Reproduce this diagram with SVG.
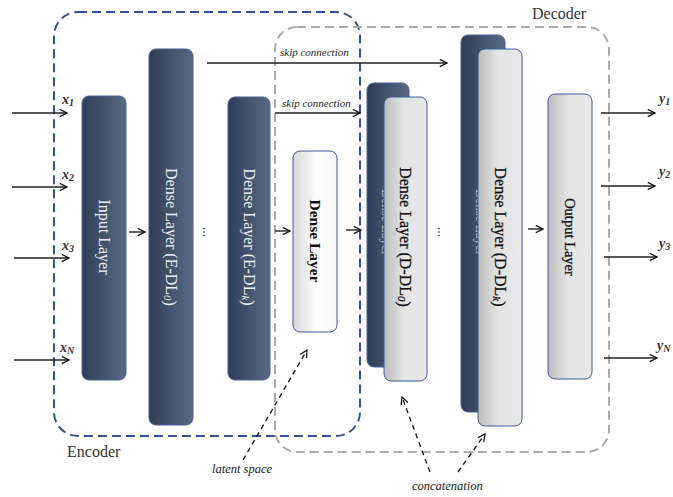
<svg xmlns="http://www.w3.org/2000/svg" width="673" height="497" viewBox="0 0 673 497">
<defs>
<linearGradient id="dark" x1="0" y1="0" x2="1" y2="0">
<stop offset="0" stop-color="#2f3d57"/>
<stop offset="1" stop-color="#5a6984"/>
</linearGradient>
<linearGradient id="light" x1="0" y1="0" x2="1" y2="0">
<stop offset="0" stop-color="#bcbcbc"/>
<stop offset="0.45" stop-color="#e4e4e4"/>
<stop offset="1" stop-color="#e8e8e8"/>
</linearGradient>
<linearGradient id="white" x1="0" y1="0" x2="1" y2="0">
<stop offset="0" stop-color="#d8d8d8"/>
<stop offset="0.55" stop-color="#ffffff"/>
<stop offset="1" stop-color="#f7f7f7"/>
</linearGradient>
<marker id="ah" viewBox="0 0 10 10" refX="9" refY="5" markerWidth="9" markerHeight="9" markerUnits="userSpaceOnUse" orient="auto">
<path d="M1,1 L9,5 L1,9" fill="none" stroke="#111" stroke-width="1.4"/>
</marker>
<style>
.dk{fill:url(#dark);stroke:#4b6394;stroke-width:1}
.lt{fill:url(#light);stroke:#3a5a9a;stroke-width:1}
.wt{fill:url(#white);stroke:#3a5a9a;stroke-width:1}
.lbl{font-family:"Liberation Serif",serif;font-size:16px;text-anchor:middle;dominant-baseline:central}
.wlbl{fill:#eef0f4}
.blbl{fill:#111;stroke:#111;stroke-width:0.3}
.io{font-family:"Liberation Serif",serif;font-size:14px;font-style:italic;font-weight:bold;fill:#333}
.it{font-family:"Liberation Serif",serif;font-style:italic;fill:#222}
.cap{font-family:"Liberation Serif",serif;font-size:16px;fill:#333}
.ln{stroke:#222;stroke-width:1.4;fill:none;marker-end:url(#ah)}
.dl{stroke:#111;stroke-width:1.3;fill:none;stroke-dasharray:5,4;marker-end:url(#ah)}
.ghost{font-family:"Liberation Serif",serif;font-size:13px;fill:#c9d0dc;text-anchor:middle;dominant-baseline:central}
</style>
</defs>
<rect width="673" height="497" fill="#fff"/>

<g id="encoder-box">
<rect x="54" y="12" width="306" height="424" rx="24" fill="none" stroke="#2f5597" stroke-width="2" stroke-dasharray="9,5"/>
<text class="cap" x="67" y="457">Encoder</text>
</g>
<g id="decoder-box">
<rect x="275" y="27" width="334" height="425" rx="22" fill="none" stroke="#ababab" stroke-width="2" stroke-dasharray="9,5"/>
<text class="cap" x="532" y="19">Decoder</text>
</g>

<g id="input-layer">
<rect class="dk" x="82" y="96" width="44" height="284" rx="7"/>
<text class="lbl wlbl" transform="translate(104,237) rotate(90)">Input Layer</text>
</g>
<g id="e-dl0">
<rect class="dk" x="149" y="49" width="44" height="376" rx="7"/>
<text class="lbl wlbl" transform="translate(171,237) rotate(90)">Dense Layer (E-DL<tspan font-style="italic" font-size="11" dy="3">0</tspan><tspan dy="-3">)</tspan></text>
</g>
<g id="dots1">
<text class="lbl" style="fill:#222;font-size:14px" transform="translate(207,232) rotate(90)">...</text>
</g>
<g id="e-dlk">
<rect class="dk" x="228" y="97" width="42" height="283" rx="7"/>
<text class="lbl wlbl" transform="translate(249,237) rotate(90)">Dense Layer (E-DL<tspan font-style="italic" font-size="11" dy="3">k</tspan><tspan dy="-3">)</tspan></text>
</g>
<g id="latent">
<rect class="wt" x="293" y="151" width="44" height="181" rx="7"/>
<text class="lbl blbl" style="font-weight:bold;font-size:15.5px;stroke-width:0" transform="translate(315,241) rotate(90)">Dense Layer</text>
</g>
<g id="d-dl0">
<rect class="dk" x="367" y="83" width="42" height="284" rx="7"/>
<text class="ghost" transform="translate(386,222) rotate(90)">Dense Layer</text>
<rect class="lt" x="384" y="97" width="43" height="284" rx="7"/>
<text class="lbl blbl" transform="translate(405,237) rotate(90)">Dense Layer (D-DL<tspan font-style="italic" font-size="11" dy="3">0</tspan><tspan dy="-3">)</tspan></text>
</g>
<g id="dots2">
<text class="lbl" style="fill:#222;font-size:14px" transform="translate(442,232) rotate(90)">...</text>
</g>
<g id="d-dlk">
<rect class="dk" x="461" y="35" width="44" height="377" rx="7"/>
<text class="ghost" transform="translate(480,222) rotate(90)">Dense Layer</text>
<rect class="lt" x="478" y="49" width="44" height="377" rx="7"/>
<text class="lbl blbl" transform="translate(500,237) rotate(90)">Dense Layer (D-DL<tspan font-style="italic" font-size="11" dy="3">k</tspan><tspan dy="-3">)</tspan></text>
</g>
<g id="output-layer">
<rect class="lt" x="548" y="94" width="44" height="285" rx="7"/>
<text class="lbl blbl" style="font-size:14.5px" transform="translate(570,237) rotate(90)">Output Layer</text>
</g>

<g id="io-labels">
<text class="io" x="62" y="104">x<tspan font-size="10" dy="2">1</tspan></text>
<text class="io" x="62" y="179">x<tspan font-size="10" dy="2">2</tspan></text>
<text class="io" x="62" y="250">x<tspan font-size="10" dy="2">3</tspan></text>
<text class="io" x="60" y="352">x<tspan font-size="10" dy="2">N</tspan></text>
<text class="io" x="659" y="103">y<tspan font-size="10" dy="2">1</tspan></text>
<text class="io" x="659" y="176">y<tspan font-size="10" dy="2">2</tspan></text>
<text class="io" x="659" y="248">y<tspan font-size="10" dy="2">3</tspan></text>
<text class="io" x="657" y="350">y<tspan font-size="10" dy="2">N</tspan></text>
</g>

<g id="connectors">
<line class="ln" x1="12" y1="113" x2="67" y2="113"/>
<line class="ln" x1="12" y1="187" x2="67" y2="187"/>
<line class="ln" x1="14" y1="258" x2="69" y2="258"/>
<line class="ln" x1="14" y1="360" x2="69" y2="360"/>
<line class="ln" x1="601" y1="113" x2="655" y2="113"/>
<line class="ln" x1="601" y1="186" x2="655" y2="186"/>
<line class="ln" x1="604" y1="257" x2="657" y2="257"/>
<line class="ln" x1="604" y1="358" x2="657" y2="358"/>
<line class="ln" x1="129" y1="232" x2="145" y2="232"/>
<line class="ln" x1="275" y1="231" x2="290" y2="231"/>
<line class="ln" x1="346" y1="230" x2="361" y2="230"/>
<line class="ln" x1="528" y1="229" x2="543" y2="229"/>
<line class="ln" x1="207" y1="63" x2="447" y2="63"/>
<line class="ln" x1="275" y1="113" x2="360" y2="113"/>
<text class="it" font-size="11" x="280" y="56">skip connection</text>
<text class="it" font-size="11" x="282" y="107">skip connection</text>
<line class="dl" x1="243" y1="460" x2="307" y2="350"/>
<line class="dl" x1="430" y1="472" x2="402" y2="397"/>
<line class="dl" x1="458" y1="472" x2="485" y2="434"/>
<text class="it" font-size="12.5" x="212" y="473">latent space</text>
<text class="it" font-size="12.5" x="412" y="490">concatenation</text>
</g>
</svg>
